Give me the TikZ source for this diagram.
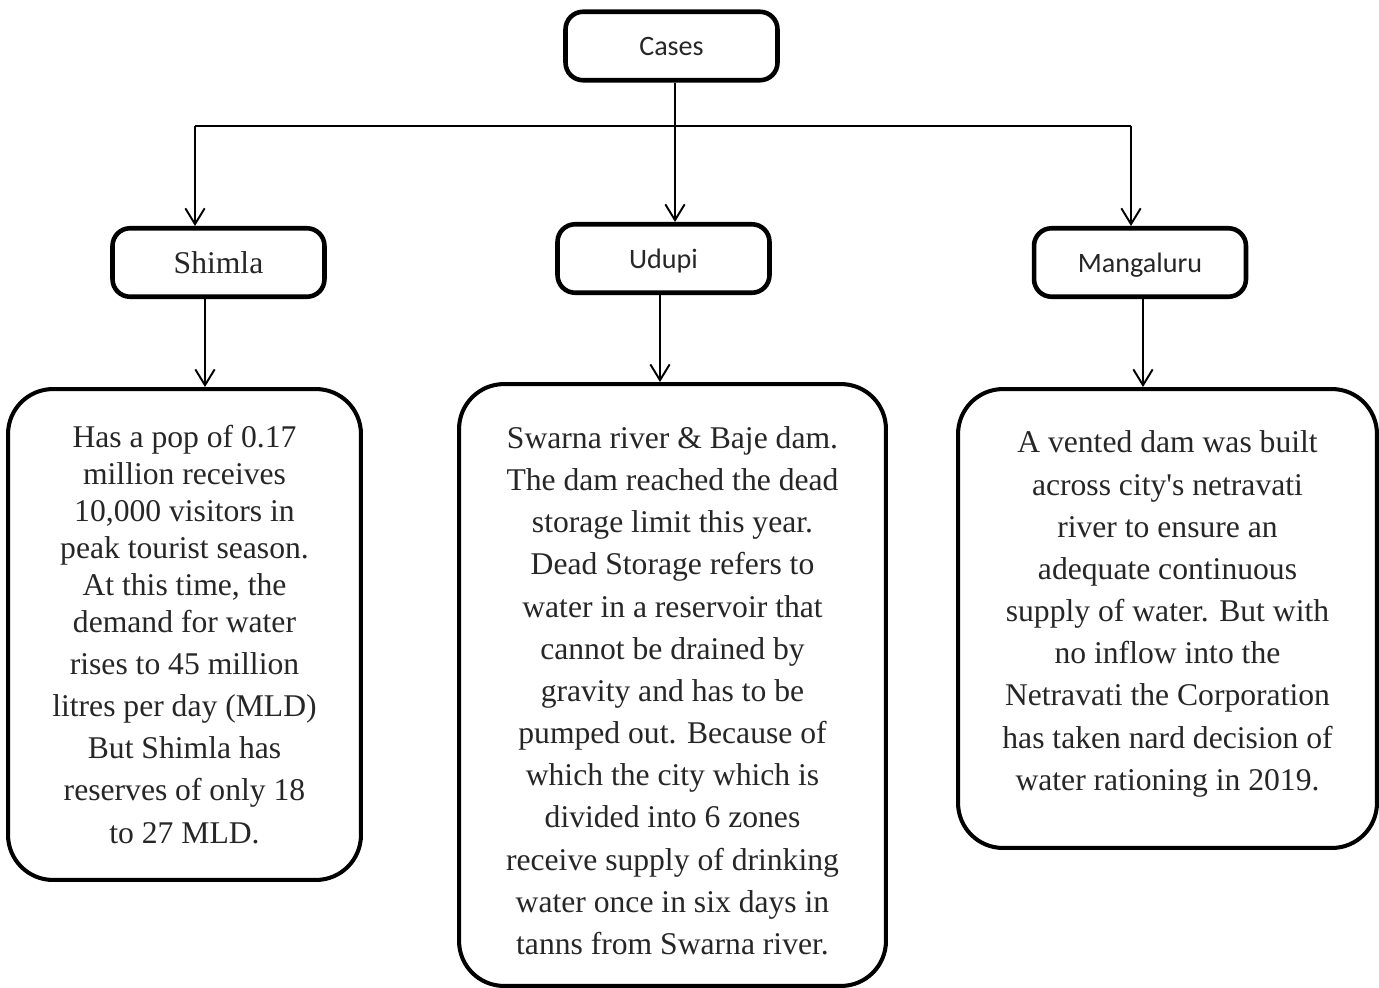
\documentclass[tikz,border=0pt]{standalone}
\usepackage{fontspec}
\setmainfont{Liberation Serif}
\newfontfamily\calibrifont{Carlito}
\usetikzlibrary{arrows.meta}
\usetikzlibrary{positioning}

\tikzset{
  headbox/.style={draw=black,line width=2.6pt,rounded corners=10pt,minimum width=4.24cm,minimum height=1.37cm,inner sep=0pt,text=black!85},
  detailbox/.style={draw=black,line width=2.3pt,rounded corners=0.9cm,align=center,inner sep=0pt,text=black!85,font=\fontsize{18}{24}\selectfont},
  arr/.style={line width=1.1pt,-{Straight Barb[length=9pt,width=11pt,line width=1.1pt]}},
}

\begin{document}
\begin{tikzpicture}[x=0.02cm,y=-0.02cm]
\useasboundingbox (0,0) rectangle (1379,987);
% top level
\node[headbox,font=\calibrifont\fontsize{16}{19}\selectfont] (cases) at (671.5,46) {\raisebox{-0.5pt}[\height][\depth]{Cases}};
\node[headbox,font=\fontsize{18}{21}\selectfont] (shimla) at (218.5,262.5) {Shimla};
\node[headbox,font=\calibrifont\fontsize{16}{19}\selectfont] (udupi) at (663.5,258.5) {\raisebox{-1.2pt}[\height][\depth]{Udupi}};
\node[headbox,font=\calibrifont\fontsize{16}{19}\selectfont] (mangaluru) at (1140,262.5) {\raisebox{-1.7pt}[\height][\depth]{Mangaluru}};

% details
\node[detailbox,minimum width=7.06cm,minimum height=9.82cm,font=\fontsize{18}{21}\selectfont] (shimlatxt) at (184.5,634.5)
  {Has a pop of 0.17\\ million receives\\ 10,000 visitors in\\ peak tourist season.\\ At this time, the\\ demand for water\\[3pt]
   rises to 45 million\\[3pt] litres per day (MLD)\\[3pt] But Shimla has\\[3pt] reserves of only 18\\[3pt] to 27 MLD.};
\node[detailbox,minimum width=8.54cm,minimum height=12.04cm] (udupitxt) at (672.5,685)
  {\rule{0pt}{19pt}Swarna river \& Baje dam.\\ The dam reached the dead\\ storage limit this year.\\ Dead Storage refers to\\ water in a reservoir that\\
   cannot be drained by\\ gravity and has to be\\ pumped out. Because of\\ which the city which is\\ divided into 6 zones\\
   receive supply of drinking\\ water once in six days in\\ tanns from Swarna river.};
\node[detailbox,minimum width=8.38cm,minimum height=9.18cm] (mangtxt) at (1167.5,618.5)
  {A vented dam was built\\ across city\textquotesingle s netravati\\ river to ensure an\\ adequate continuous\\ supply of water. But with\\
   no inflow into the\\ Netravati the Corporation\\ has taken nard decision of\\ water rationing in 2019.\rule[-9pt]{0pt}{0pt}};

% connectors
\coordinate (lft) at (195,126);
\coordinate (rgt) at (1131,126);
\draw[arr] ([xshift=0.07cm]cases.south) -- ([xshift=0.07cm]cases.south |- udupi.north);
\draw[line width=1.1pt] (lft) -- (rgt);
\draw[arr] (lft) -- (lft |- shimla.north);
\draw[arr] (rgt) -- (rgt |- mangaluru.north);
\draw[arr] ([xshift=-0.27cm]shimla.south) -- ([xshift=-0.27cm]shimla.south |- shimlatxt.north);
\draw[arr] ([xshift=-0.07cm]udupi.south) -- ([xshift=-0.07cm]udupi.south |- udupitxt.north);
\draw[arr] ([xshift=0.06cm]mangaluru.south) -- ([xshift=0.06cm]mangaluru.south |- mangtxt.north);
\end{tikzpicture}
\end{document}
